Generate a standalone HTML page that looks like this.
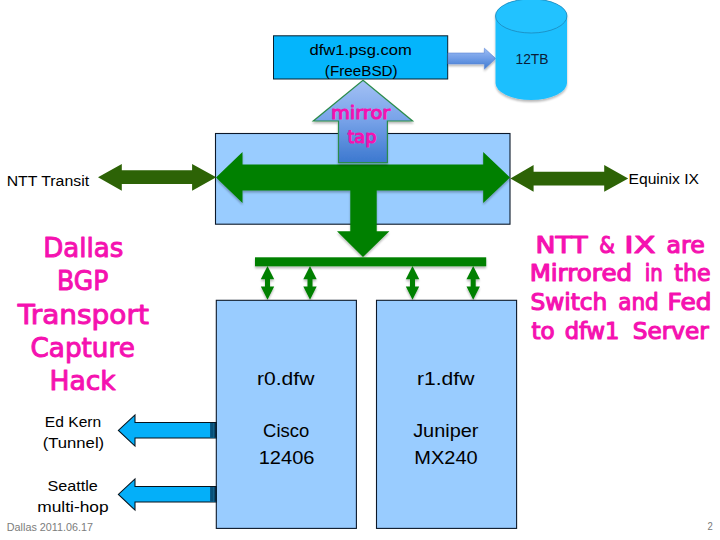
<!DOCTYPE html>
<html lang="en">
<head>
<meta charset="utf-8">
<title>Dallas BGP Transport Capture Hack</title>
<style>
html,body{margin:0;padding:0;background:#fff;}
body{width:720px;height:540px;overflow:hidden;position:relative;}
svg{position:absolute;left:0;top:0;display:block;}
text{font-family:"Liberation Sans",sans-serif;fill:#000;}
.pk{font-family:"DejaVu Sans","Liberation Sans",sans-serif;fill:#f511b0;stroke:#f511b0;stroke-width:1;stroke-linejoin:round;stroke-linecap:round;}
.pk.m{stroke-width:1.1;}
.pk.m2{stroke-width:1.05;}
</style>
</head>
<body>
<svg width="720" height="540" viewBox="0 0 720 540">
<defs>
  <filter id="sh" x="-10%" y="-10%" width="120%" height="130%">
    <feGaussianBlur in="SourceAlpha" stdDeviation="1.2"/>
    <feOffset dx="0" dy="1.5" result="o"/>
    <feComponentTransfer><feFuncA type="linear" slope="0.28"/></feComponentTransfer>
    <feMerge><feMergeNode/><feMergeNode in="SourceGraphic"/></feMerge>
  </filter>
  <linearGradient id="gv" x1="0" y1="0" x2="0" y2="1">
    <stop offset="0" stop-color="#a3c1f5"/>
    <stop offset="0.45" stop-color="#7ba5ea"/>
    <stop offset="1" stop-color="#3c78cf"/>
  </linearGradient>
  <linearGradient id="gh" x1="0" y1="0" x2="0" y2="1">
    <stop offset="0" stop-color="#9dbdf4"/>
    <stop offset="0.5" stop-color="#6f9ce6"/>
    <stop offset="1" stop-color="#3f7bd0"/>
  </linearGradient>
</defs>
<rect width="720" height="540" fill="#fff"/>

<!-- server box -->
<rect x="273.5" y="35.8" width="174.2" height="43.2" fill="#04b5fc" stroke="#08202f" stroke-width="1"/>

<!-- arrow to disk -->
<g filter="url(#sh)">
<polygon points="448,53 484.4,53 484.4,48.2 495.8,58.6 484.4,69.1 484.4,63.9 448,63.9" fill="url(#gh)" stroke="#5a86d6" stroke-width="0.6"/>
</g>

<!-- cylinder -->
<g filter="url(#sh)">
<path d="M495.5,16 A35.75,17 0 0 1 567,16 L567,83 A35.75,17 0 0 1 495.5,83 Z" fill="#1fbffe"/>
<ellipse cx="531.25" cy="16" rx="35.75" ry="17" fill="#24c2ff" stroke="#1b7fb0" stroke-width="0.7"/>
</g>

<!-- switch box -->
<rect x="215.5" y="133.5" width="294.5" height="90.7" fill="#99ccff" stroke="#0c1829" stroke-width="1.1"/>

<!-- big green arrows -->
<g filter="url(#sh)" fill="#008000">
<polygon points="216,177.5 242.5,152 242.5,164.5 483.2,164.5 483.2,152 510,177.5 483.2,203 483.2,190.5 376.7,190.5 376.7,231.2 389.4,231.2 363,257 337,231.2 350.3,231.2 350.3,190.5 242.5,190.5 242.5,203"/>
<rect x="255" y="257.3" width="231.2" height="9"/>
</g>

<!-- small double arrows -->
<g fill="#008000" filter="url(#sh)">
<path d="M267.5,266 l6.7,13.3 h-4.2 v7.2 h4.2 l-6.7,13.3 l-6.7,-13.3 h4.2 v-7.2 h-4.2 z"/>
<path d="M310,266 l6.7,13.3 h-4.2 v7.2 h4.2 l-6.7,13.3 l-6.7,-13.3 h4.2 v-7.2 h-4.2 z"/>
<path d="M412.5,266 l6.7,13.3 h-4.2 v7.2 h4.2 l-6.7,13.3 l-6.7,-13.3 h4.2 v-7.2 h-4.2 z"/>
<path d="M473.2,266 l6.7,13.3 h-4.2 v7.2 h4.2 l-6.7,13.3 l-6.7,-13.3 h4.2 v-7.2 h-4.2 z"/>
</g>

<!-- mirror tap arrow -->
<g filter="url(#sh)">
<polygon points="363,80.3 412.6,121 387.4,121 387.4,162.6 338.5,162.6 338.5,121 313.3,121" fill="url(#gv)" stroke="#2b8c4b" stroke-width="1.2"/>
</g>

<!-- NTT / Equinix arrows -->
<g fill="#2d6306">
<polygon points="98,177.3 121.8,163.9 121.8,170.3 192.1,170.3 192.1,163.9 216.2,177.3 192.1,190.7 192.1,184 121.8,184 121.8,190.7"/>
<polygon points="510.4,178.4 533.6,165 533.6,171.7 604.2,171.7 604.2,165 628.2,178.4 604.2,191.7 604.2,185.6 533.6,185.6 533.6,191.7"/>
</g>

<!-- router boxes -->
<rect x="216.3" y="300.3" width="140.1" height="228.1" fill="#99ccff" stroke="#0c1829" stroke-width="1.1"/>
<rect x="376.5" y="300.3" width="140.1" height="228.1" fill="#99ccff" stroke="#0c1829" stroke-width="1.1"/>

<!-- blue left arrows -->
<g fill="#04aff9" stroke="#06121c" stroke-width="1.05" stroke-linejoin="miter">
<polygon points="118.4,430.4 135,414.9 135,422.5 216.3,422.5 216.3,438 135,438 135,446.1"/>
<polygon points="118.4,494.4 135,478.9 135,486.5 216.3,486.5 216.3,502 135,502 135,510.1"/>
</g>
<g>
<rect x="210.1" y="423" width="2.9" height="14.5" fill="#07507a"/>
<rect x="213" y="423" width="1.3" height="14.5" fill="#126088"/>
<rect x="214.3" y="423" width="2" height="14.5" fill="#0a2840"/>
<rect x="210.1" y="487" width="2.9" height="14.5" fill="#07507a"/>
<rect x="213" y="487" width="1.3" height="14.5" fill="#126088"/>
<rect x="214.3" y="487" width="2" height="14.5" fill="#0a2840"/>
</g>

<!-- text -->
<text x="309.52" y="54.7" font-size="15.4" textLength="102.24" lengthAdjust="spacingAndGlyphs">dfw1.psg.com</text>
<text x="324.87" y="75.6" font-size="15.4" textLength="72.76" lengthAdjust="spacingAndGlyphs">(FreeBSD)</text>
<text x="515.44" y="63.8" font-size="13.8" textLength="33.06" lengthAdjust="spacingAndGlyphs" style="fill:#0b1d38">12TB</text>
<text x="6.65" y="185.9" font-size="15.3" textLength="82.44" lengthAdjust="spacingAndGlyphs">NTT Transit</text>
<text x="628.55" y="183.6" font-size="15.3" textLength="70.41" lengthAdjust="spacingAndGlyphs">Equinix IX</text>
<text x="257.02" y="384.7" font-size="19.2" textLength="57.37" lengthAdjust="spacingAndGlyphs">r0.dfw</text>
<text x="263.09" y="436.5" font-size="19.2" textLength="46.05" lengthAdjust="spacingAndGlyphs">Cisco</text>
<text x="258.69" y="463.7" font-size="19.2" textLength="55.78" lengthAdjust="spacingAndGlyphs">12406</text>
<text x="417.02" y="384.7" font-size="19.2" textLength="57.37" lengthAdjust="spacingAndGlyphs">r1.dfw</text>
<text x="413.17" y="436.5" font-size="19.2" textLength="65.36" lengthAdjust="spacingAndGlyphs">Juniper</text>
<text x="414.30" y="463.7" font-size="19.2" textLength="63.35" lengthAdjust="spacingAndGlyphs">MX240</text>
<text x="44.85" y="427.0" font-size="15.3" textLength="56.32" lengthAdjust="spacingAndGlyphs">Ed Kern</text>
<text x="42.73" y="448.4" font-size="15.3" textLength="61.43" lengthAdjust="spacingAndGlyphs">(Tunnel)</text>
<text x="47.45" y="490.8" font-size="15.3" textLength="50.30" lengthAdjust="spacingAndGlyphs">Seattle</text>
<text x="37.27" y="512.0" font-size="15.3" textLength="71.34" lengthAdjust="spacingAndGlyphs">multi-hop</text>
<text x="6.83" y="530.7" font-size="11" textLength="86.06" lengthAdjust="spacingAndGlyphs" style="fill:#7c7c7c">Dallas 2011.06.17</text>
<text x="707.51" y="529.8" font-size="10.9" textLength="5.27" lengthAdjust="spacingAndGlyphs" style="fill:#777">2</text>
<text class="pk" x="43.16" y="257.0" font-size="26.8" textLength="80.09" lengthAdjust="spacingAndGlyphs">Dallas</text>
<text class="pk" x="57.11" y="290.0" font-size="26.8" textLength="51.14" lengthAdjust="spacingAndGlyphs">BGP</text>
<text class="pk" x="17.72" y="323.6" font-size="26.8" textLength="131.22" lengthAdjust="spacingAndGlyphs">Transport</text>
<text class="pk" x="30.49" y="356.8" font-size="26.8" textLength="104.35" lengthAdjust="spacingAndGlyphs">Capture</text>
<text class="pk" x="49.42" y="390.3" font-size="26.8" textLength="66.33" lengthAdjust="spacingAndGlyphs">Hack</text>
<text class="pk m2" x="330.98" y="119.0" font-size="18" textLength="59.29" lengthAdjust="spacingAndGlyphs">mirror</text>
<text class="pk m2" x="347.40" y="143.3" font-size="18" textLength="28.99" lengthAdjust="spacingAndGlyphs">tap</text>
<text class="pk m" x="535.40" y="252.9" font-size="22.2" textLength="52.20" lengthAdjust="spacingAndGlyphs">NTT</text>
<text class="pk m" x="599.37" y="252.9" font-size="22.2" textLength="15.62" lengthAdjust="spacingAndGlyphs">&amp;</text>
<text class="pk m" x="624.33" y="252.9" font-size="22.2" textLength="31.22" lengthAdjust="spacingAndGlyphs">IX</text>
<text class="pk m" x="666.51" y="252.9" font-size="22.2" textLength="38.27" lengthAdjust="spacingAndGlyphs">are</text>
<text class="pk m" x="529.65" y="280.7" font-size="22.2" textLength="102.42" lengthAdjust="spacingAndGlyphs">Mirrored</text>
<text class="pk m" x="644.73" y="280.7" font-size="22.2" textLength="17.97" lengthAdjust="spacingAndGlyphs">in</text>
<text class="pk m" x="674.37" y="280.7" font-size="22.2" textLength="36.31" lengthAdjust="spacingAndGlyphs">the</text>
<text class="pk m" x="530.49" y="310.0" font-size="22.2" textLength="76.87" lengthAdjust="spacingAndGlyphs">Switch</text>
<text class="pk m" x="618.15" y="310.0" font-size="22.2" textLength="40.71" lengthAdjust="spacingAndGlyphs">and</text>
<text class="pk m" x="667.62" y="310.0" font-size="22.2" textLength="44.05" lengthAdjust="spacingAndGlyphs">Fed</text>
<text class="pk m" x="531.47" y="338.7" font-size="22.2" textLength="23.15" lengthAdjust="spacingAndGlyphs">to</text>
<text class="pk m" x="564.73" y="338.7" font-size="22.2" textLength="54.72" lengthAdjust="spacingAndGlyphs">dfw1</text>
<text class="pk m" x="632.70" y="338.7" font-size="22.2" textLength="76.00" lengthAdjust="spacingAndGlyphs">Server</text>
</svg>
</body>
</html>
